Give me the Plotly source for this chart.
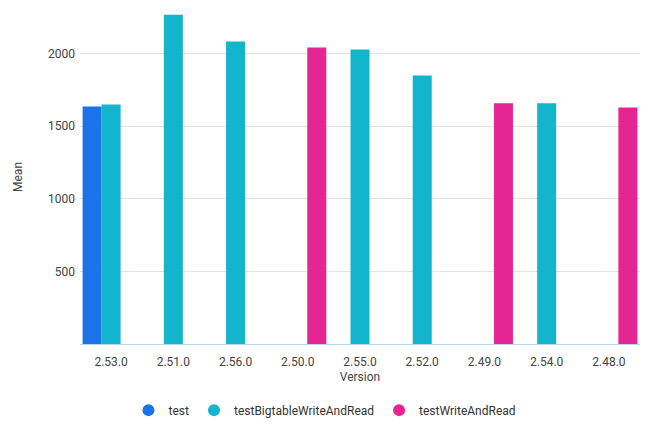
import plotly.graph_objects as go

versions = ["2.53.0", "2.51.0", "2.56.0", "2.50.0", "2.55.0", "2.52.0", "2.49.0", "2.54.0", "2.48.0"]
test_vals = [1636, None, None, None, None, None, None, None, None]
bigtable_vals = [1650, 2268, 2083, None, 2028, 1849, None, 1657, None]
writeread_vals = [None, None, None, 2041, None, None, 1657, None, 1629]

series = [
    ("test", test_vals, "#1a73e8"),
    ("testBigtableWriteAndRead", bigtable_vals, "#12b5cb"),
    ("testWriteAndRead", writeread_vals, "#e52592"),
]

fig = go.Figure()
for name, vals, color in series:
    fig.add_trace(go.Bar(x=versions, y=vals, name=name, marker=dict(color=color, line=dict(width=0)),
                         showlegend=False))
for name, vals, color in series:
    fig.add_trace(go.Scatter(x=[None], y=[None], mode="markers", name=name,
                             marker=dict(color=color, size=12, symbol="circle")))

font = "Roboto, sans-serif"
fig.update_layout(
    width=642, height=434,
    margin=dict(l=72, r=10, t=2, b=98),
    barmode="group", bargap=0.084, bargroupgap=0,
    plot_bgcolor="white", paper_bgcolor="white",
    font=dict(family=font, size=12, color="#444444"),
    xaxis=dict(title=dict(text="Version", standoff=4, font=dict(size=12, color="#444444")),
               showline=True, linecolor="#c5d3e8", linewidth=1, ticks="", showgrid=False,
               tickangle=0, automargin=False, ticklabelstandoff=7,
               tickfont=dict(size=12, color="#444444")),
    yaxis=dict(title=dict(text="Mean", standoff=22, font=dict(size=12, color="#444444")),
               range=[0, 2300], tickvals=[500, 1000, 1500, 2000], showgrid=True, automargin=False,
               ticklabelstandoff=4,
               gridcolor="#e3e3e3", zeroline=False, ticks="", tickfont=dict(size=12, color="#444444")),
    legend=dict(orientation="h", x=0.4375, xanchor="center", y=-0.198, yanchor="middle",
                font=dict(size=12, color="#333333"), itemsizing="constant"),
)

fig.write_html("out.html")
